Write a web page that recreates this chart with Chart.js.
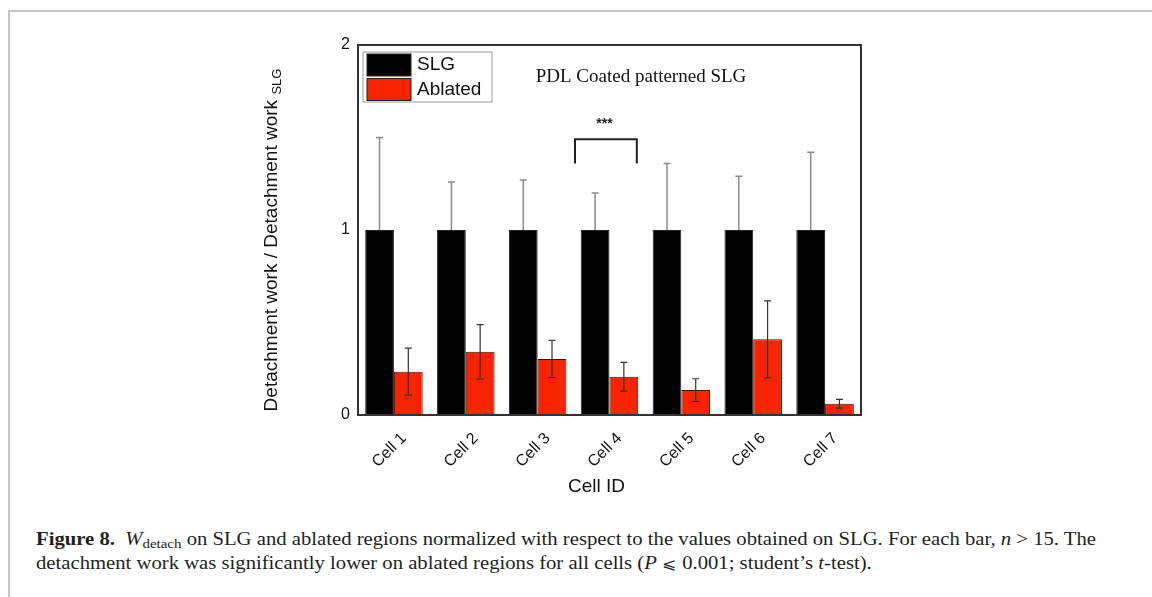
<!DOCTYPE html>
<html lang="en">
<head>
<meta charset="UTF-8">
<title>Figure 8 - Detachment work</title>
<script src="https://cdn.jsdelivr.net/npm/chart.js"></script>
<style>
    html, body {
        margin: 0;
        padding: 0;
        background: #fff;
        width: 1152px;
        height: 597px;
        overflow: hidden;
    }
    .frame {
        position: absolute;
        left: 8px;
        top: 10px;
        width: 1200px;
        height: 650px;
        border-left: 2px solid #c4c4c4;
        border-top: 2px solid #c4c4c4;
    }
    #chartBox {
        position: absolute;
        left: 230px;
        top: 20px;
        width: 680px;
        height: 490px;
    }
    .caption {
        position: absolute;
        left: 36px;
        top: 527px;
        font-family: "Liberation Serif", "Times New Roman", serif;
        font-size: 18px;
        line-height: 24px;
        color: #231f20;
    }
    .caption div {
        white-space: nowrap;
        transform-origin: left center;
        width: max-content;
    }
    .caption sub {
        font-size: 13px;
        vertical-align: -3px;
        line-height: 0;
    }
    .caption .le {
        font-family: "DejaVu Serif", "Liberation Serif", serif;
        font-size: 15px;
    }
</style>
</head>
<body>
<div class="frame"></div>

<div id="chartBox">
    <canvas id="detachChart" width="680" height="490"></canvas>
</div>

<div class="caption">
    <div id="cap1"><b>Figure 8.</b>&nbsp; <i>W</i><sub>detach</sub> on SLG and ablated regions normalized with respect to the values obtained on SLG. For each bar, <i>n</i> &gt; 15. The</div>
    <div id="cap2">detachment work was significantly lower on ablated regions for all cells (<i>P</i> <span class="le">⩽</span> 0.001; student’s <i>t</i>-test).</div>
</div>

<script>
    // donnees
    const cells = ['Cell 1', 'Cell 2', 'Cell 3', 'Cell 4', 'Cell 5', 'Cell 6', 'Cell 7'];
    const slgMean = [1, 1, 1, 1, 1, 1, 1];
    const slgErr = [0.50, 0.26, 0.27, 0.20, 0.36, 0.29, 0.42];
    const ablatedMean = [0.234, 0.342, 0.303, 0.207, 0.135, 0.409, 0.061];
    const ablatedErr = [0.127, 0.147, 0.100, 0.078, 0.061, 0.208, 0.024];
    const yTicks = [0, 1, 2];
    const seriesNames = ['SLG', 'Ablated'];
    const sigCell = 3; // Cell 4, ***

    const SANS = '"Liberation Sans", Arial, sans-serif';
    const SERIF = '"Liberation Serif", "Times New Roman", serif';
    const RED = '#f82400';

    // barres d'erreur (SLG: seulement la partie haute, grise)
    const errorBars = {
        id: 'errorBars',
        afterDatasetsDraw(chart) {
            const ctx = chart.ctx;
            const y = chart.scales.y;
            const sets = [
                {mean: slgMean, err: slgErr, color: '#8c8c8c', width: 1.5, lower: false},
                {mean: ablatedMean, err: ablatedErr, color: '#333', width: 1.2, lower: true}
            ];
            sets.forEach((s, di) => {
                const meta = chart.getDatasetMeta(di);
                meta.data.forEach((bar, i) => {
                    const x = bar.x;
                    const yTop = y.getPixelForValue(s.mean[i] + s.err[i]);
                    const yBot = s.lower ? y.getPixelForValue(s.mean[i] - s.err[i]) : y.getPixelForValue(s.mean[i]);
                    ctx.save();
                    ctx.strokeStyle = s.color;
                    ctx.lineWidth = s.width;
                    ctx.beginPath();
                    ctx.moveTo(x, yTop);
                    ctx.lineTo(x, yBot);
                    ctx.moveTo(x - 3.5, yTop);
                    ctx.lineTo(x + 3.5, yTop);
                    if (s.lower) {
                        ctx.moveTo(x - 3.5, yBot);
                        ctx.lineTo(x + 3.5, yBot);
                    }
                    ctx.stroke();
                    ctx.restore();
                });
            });
        }
    };

    // cadre, legende, titres, crochet de significativite
    const decorations = {
        id: 'decorations',
        afterDraw(chart) {
            const ctx = chart.ctx;
            const a = chart.chartArea;
            const xs = chart.scales.x;
            const ys = chart.scales.y;
            const catW = (a.right - a.left) / cells.length;

            ctx.save();
            // cadre du graphe
            ctx.strokeStyle = '#333';
            ctx.lineWidth = 2;
            ctx.strokeRect(a.left, a.top, a.right - a.left, a.bottom - a.top);

            // legende
            const lx = a.left + 5, ly = a.top + 7;
            ctx.lineWidth = 1;
            ctx.strokeStyle = '#9a9a9a';
            ctx.strokeRect(lx, ly, 129, 50);
            const swatches = ['#000', RED];
            swatches.forEach((c, i) => {
                ctx.fillStyle = c;
                ctx.fillRect(lx + 4, ly + 2 + i * 24.5, 44, 22);
                ctx.strokeStyle = '#222';
                ctx.strokeRect(lx + 4, ly + 2 + i * 24.5, 44, 22);
                ctx.fillStyle = '#111';
                ctx.font = '19px ' + SANS;
                ctx.textAlign = 'left';
                ctx.textBaseline = 'middle';
                ctx.fillText(seriesNames[i], lx + 54, ly + 13 + i * 24.5);
            });

            // titre dans le graphe
            ctx.font = '19px ' + SERIF;
            ctx.textAlign = 'center';
            ctx.fillStyle = '#111';
            ctx.fillText('PDL Coated patterned SLG', a.left + 283, a.top + 32);

            // crochet ***
            const cx = xs.getPixelForValue(sigCell);
            const bl = cx - 0.48 * catW, br = cx + 0.38 * catW;
            const bt = ys.getPixelForValue(1.49), bb = ys.getPixelForValue(1.36);
            ctx.strokeStyle = '#222';
            ctx.lineWidth = 2;
            ctx.beginPath();
            ctx.moveTo(bl, bb);
            ctx.lineTo(bl, bt);
            ctx.lineTo(br, bt);
            ctx.lineTo(br, bb);
            ctx.stroke();
            ctx.font = 'bold 14px ' + SANS;
            ctx.fillStyle = '#222';
            ctx.fillText('***', cx - 5, ys.getPixelForValue(1.57));

            // titre axe x
            ctx.font = '19px ' + SANS;
            ctx.fillStyle = '#111';
            ctx.fillText('Cell ID', (a.left + a.right) / 2 - 13, a.bottom + 72);

            // titre axe y avec indice
            const main = 'Detachment work / Detachment work ';
            const sub = 'SLG';
            ctx.font = '19px ' + SANS;
            const wMain = ctx.measureText(main).width;
            ctx.font = '13px ' + SANS;
            const wSub = ctx.measureText(sub).width;
            const total = wMain + wSub;
            ctx.translate(a.left - 86, (a.top + a.bottom) / 2 + 10);
            ctx.rotate(-Math.PI / 2);
            ctx.textAlign = 'left';
            ctx.textBaseline = 'middle';
            ctx.font = '19px ' + SANS;
            ctx.fillText(main, -total / 2, 0);
            ctx.font = '13px ' + SANS;
            ctx.fillText(sub, -total / 2 + wMain, 5);
            ctx.restore();
        }
    };

    new Chart(document.getElementById('detachChart'), {
        type: 'bar',
        data: {
            labels: cells,
            datasets: [
                {
                    label: seriesNames[0],
                    data: slgMean,
                    backgroundColor: '#000',
                    borderColor: '#222',
                    borderWidth: 1
                },
                {
                    label: seriesNames[1],
                    data: ablatedMean,
                    backgroundColor: RED,
                    borderColor: '#3a1208',
                    borderWidth: 1
                }
            ]
        },
        options: {
            responsive: false,
            animation: false,
            layout: {padding: {top: 25, right: 49, left: 0, bottom: 0}},
            datasets: {bar: {categoryPercentage: 0.8, barPercentage: 1.0}},
            plugins: {
                legend: {display: false},
                tooltip: {enabled: false}
            },
            scales: {
                x: {
                    grid: {display: false, drawTicks: false},
                    border: {display: true, color: '#333', width: 2},
                    ticks: {
                        minRotation: 45,
                        maxRotation: 45,
                        labelOffset: 10,
                        padding: 14,
                        color: '#111',
                        font: {family: SANS, size: 16}
                    },
                    afterFit(scale) { scale.height = 95; }
                },
                y: {
                    min: 0,
                    max: 2,
                    grid: {display: false, drawTicks: false},
                    border: {display: true, color: '#333', width: 2},
                    afterBuildTicks(scale) { scale.ticks = yTicks.map(v => ({value: v})); },
                    ticks: {
                        padding: 8,
                        color: '#111',
                        font: {family: SANS, size: 16}
                    },
                    afterFit(scale) { scale.width = 128; }
                }
            }
        },
        plugins: [errorBars, decorations]
    });

    // legende de la figure: meme largeur de ligne que l'original
    const cap1 = document.getElementById('cap1');
    const cap2 = document.getElementById('cap2');
    const k = 1060 / cap1.getBoundingClientRect().width;
    cap1.style.transform = 'scaleX(' + k + ')';
    cap2.style.transform = 'scaleX(' + k + ')';
</script>
</body>
</html>
